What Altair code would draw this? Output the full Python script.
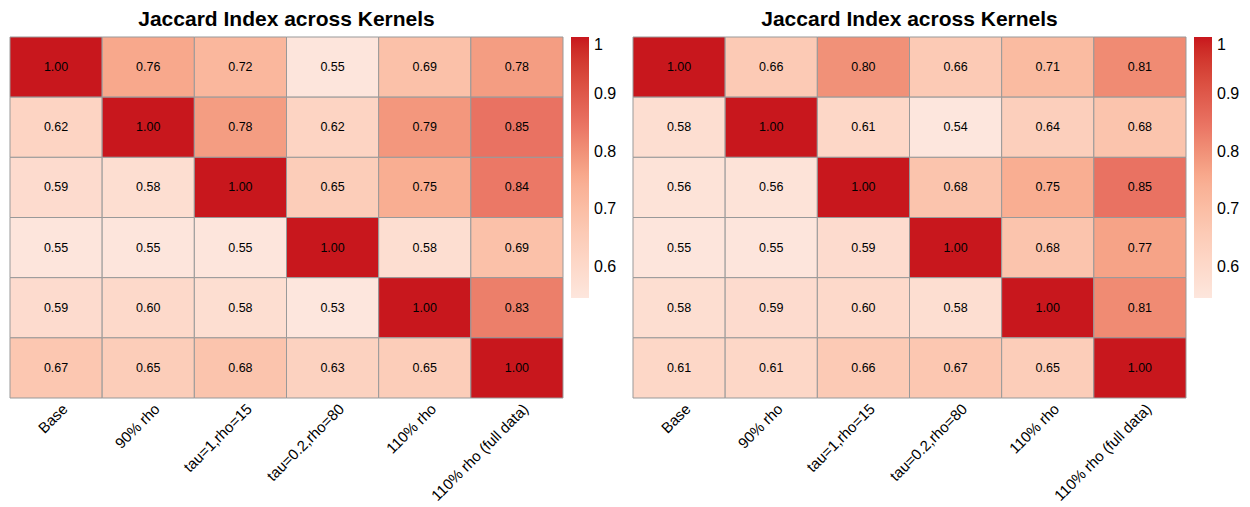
import altair as alt
import pandas as pd

kernels = ["Base", "90% rho", "tau=1,rho=15", "tau=0.2,rho=80", "110% rho", "110% rho (full data)"]

left_values = [
    [1.00, 0.76, 0.72, 0.55, 0.69, 0.78],
    [0.62, 1.00, 0.78, 0.62, 0.79, 0.85],
    [0.59, 0.58, 1.00, 0.65, 0.75, 0.84],
    [0.55, 0.55, 0.55, 1.00, 0.58, 0.69],
    [0.59, 0.60, 0.58, 0.53, 1.00, 0.83],
    [0.67, 0.65, 0.68, 0.63, 0.65, 1.00],
]

right_values = [
    [1.00, 0.66, 0.80, 0.66, 0.71, 0.81],
    [0.58, 1.00, 0.61, 0.54, 0.64, 0.68],
    [0.56, 0.56, 1.00, 0.68, 0.75, 0.85],
    [0.55, 0.55, 0.59, 1.00, 0.68, 0.77],
    [0.58, 0.59, 0.60, 0.58, 1.00, 0.81],
    [0.61, 0.61, 0.66, 0.67, 0.65, 1.00],
]

title_text = "Jaccard Index across Kernels"
legend_ticks = [1.0, 0.9, 0.8, 0.7, 0.6]
color_domain = [0.546, 0.65, 0.75, 0.85, 1.0]
color_range = ["#FDE6DD", "#FCCDB9", "#F9AE92", "#E97262", "#C8171D"]

FONT = "Liberation Sans"


def to_frame(matrix):
    rows = []
    for i, r in enumerate(matrix):
        for j, v in enumerate(r):
            rows.append({"row": kernels[i], "col": kernels[j], "value": v})
    return pd.DataFrame(rows)


def heatmap(matrix):
    df = to_frame(matrix)
    base = alt.Chart(df).encode(
        x=alt.X(
            "col:N",
            sort=kernels,
            title=None,
            axis=alt.Axis(
                labelAngle=-45,
                labelAlign="right",
                labelBaseline="top",
                labelPadding=3,
                labelFontSize=15,
                labelFont=FONT,
                labelColor="black",
                labelOffset=4,
                ticks=False,
                domain=False,
                labelLimit=0,
            ),
        ),
        y=alt.Y("row:N", sort=kernels, axis=None),
    )
    rect = base.mark_rect(stroke="#999999", strokeWidth=1).encode(
        color=alt.Color(
            "value:Q",
            scale=alt.Scale(domain=color_domain, range=color_range, clamp=True),
            legend=alt.Legend(
                title=None,
                orient="right",
                offset=8,
                padding=0,
                gradientLength=261,
                gradientThickness=18,
                gradientStrokeWidth=0,
                labelFontSize=16,
                labelFont=FONT,
                labelColor="black",
                labelOffset=5,
                labelOverlap=False,
                values=legend_ticks,
                format=".1~f",
            ),
        )
    )
    text = base.mark_text(fontSize=12.5, font=FONT, color="black").encode(
        text=alt.Text("value:Q", format=".2f")
    )
    return alt.layer(rect, text).properties(
        width=553,
        height=361,
        title=alt.TitleParams(
            title_text,
            fontSize=21,
            font=FONT,
            fontWeight="bold",
            color="black",
            anchor="middle",
            frame="group",
            offset=7,
        ),
    )


chart = (
    alt.hconcat(heatmap(left_values), heatmap(right_values), spacing=15)
    .resolve_scale(color="independent")
    .properties(padding={"left": 1, "top": 0, "right": 0, "bottom": 0})
    .configure_view(stroke=None)
)

chart.save("out.html", embed_options={"renderer": "svg", "actions": False})
